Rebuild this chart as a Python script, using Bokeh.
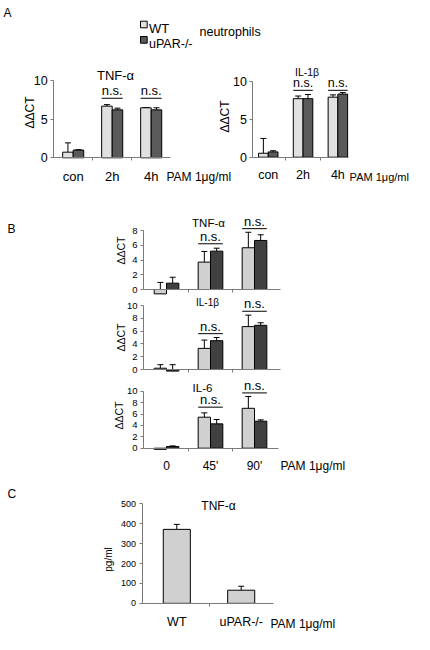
import math
import numpy as np
from bokeh.plotting import figure
from bokeh.models import Range1d, LinearAxis, FixedTicker, Whisker, TeeHead, ColumnDataSource
from bokeh.core.properties import value
from bokeh.embed import file_html
from bokeh.resources import INLINE

# ---------------- data ----------------
a_cats = ["con", "2h", "4h"]
a_tnf_wt = [0.73, 6.68, 6.47]
a_tnf_wt_err = [1.2, 0.2, 0.03]
a_tnf_ko = [1.0, 6.2, 6.2]
a_tnf_ko_err = [0.05, 0.22, 0.27]
a_il1_wt = [0.52, 7.7, 7.9]
a_il1_wt_err = [1.95, 0.35, 0.3]
a_il1_ko = [0.7, 7.7, 8.3]
a_il1_ko_err = [0.15, 0.55, 0.2]
a_yticks = [0, 5, 10]
a_ns_at = [2, 3]
a_tnf_ns_y = [7.7, 7.7]
a_il1_ns_y = [8.8, 8.8]

b_cats = ["0", "45'", "90'"]
b_tnf_wt = [-0.59, 3.71, 5.66]
b_tnf_wt_err = [1.55, 1.45, 2.1]
b_tnf_ko = [0.86, 5.2, 6.65]
b_tnf_ko_err = [0.8, 0.4, 0.77]
b_il1_wt = [0.2, 3.3, 6.7]
b_il1_wt_err = [0.55, 1.3, 1.8]
b_il1_ko = [-0.25, 4.5, 6.9]
b_il1_ko_err = [1.0, 0.5, 0.4]
b_il6_wt = [-0.2, 5.44, 7.0]
b_il6_wt_err = [0.15, 0.76, 2.06]
b_il6_ko = [0.3, 4.27, 4.74]
b_il6_ko_err = [0.1, 0.76, 0.23]
b_tnf_yticks = [0, 2, 4, 6, 8]
b_il_yticks = [0, 2, 4, 6, 8, 10]
b_ns_at = [2, 3]
b_tnf_ns_y = [6.2, 8.25]
b_il1_ns_y = [5.6, 9.1]
b_il6_ns_y = [7.2, 9.7]

c_cats = ["WT", "uPAR-/-"]
c_tnf = [372, 66]
c_tnf_err = [25, 20]
c_yticks = [0, 100, 200, 300, 400, 500]

# ---------------- style / layout ----------------
FONT_NAME = "Liberation Sans"
FONT = value(FONT_NAME)
AX = "#7a7a7a"
WT_A, KO_A = "#e0e0e0", "#5a5a5a"
WT_B, KO_B = "#d0d0d0", "#404040"
FIG_W, FIG_H = 414, 634


def XA(x):
    # top row: exact up to 240 px, then squeezed to fit the page width
    return x if x <= 240 else 240 + (x - 240) * (412 - 240) / (426 - 240)


def XB(x):
    return x


def Y(y):
    # exact down to 470 px, then squeezed to fit the page height
    return y if y <= 470 else 470 + (y - 470) * (627 - 470) / (650 - 470)


p = figure(width=FIG_W, height=FIG_H, output_backend="svg", toolbar_location=None,
           x_range=Range1d(0, FIG_W), y_range=Range1d(FIG_H, 0),
           x_axis_location=None, y_axis_location=None, min_border=0,
           outline_line_color=None, background_fill_color="white",
           border_fill_color="white")
p.grid.visible = False

extra_x, extra_y = {}, {}


def txt(x, y, s, size, align="left", baseline="alphabetic", angle=0.0):
    p.text(x=[x], y=[y], text=[s], text_font=FONT, text_font_size=value(size),
           text_align=align, text_baseline=baseline, angle=angle, text_color="black")


def panel(key, xf, xmap, ymap, yaxis_x, xaxis_end, ymax, yticks, tick_font,
          cats, series, bar_w, labels=False, label_font="12px", standoff=8,
          ns_at=None, ns_y=None, ns_font="13px"):
    (d1, p1), (d2, p2) = xmap
    p1, p2 = xf(p1), xf(p2)
    (e1, q1), (e2, q2) = ymap
    q1, q2 = Y(q1), Y(q2)
    kx = (d2 - d1) / (p2 - p1)
    extra_x[key] = Range1d(d1 + kx * (0 - p1), d1 + kx * (FIG_W - p1))
    ky = (e2 - e1) / (q2 - q1)
    extra_y[key] = Range1d(e1 + ky * (FIG_H - q1), e1 + ky * (0 - q1))
    p.extra_x_ranges = dict(extra_x)
    p.extra_y_ranges = dict(extra_y)
    rk = dict(x_range_name=key, y_range_name=key)

    n = len(cats)
    xs = np.arange(1, n + 1, dtype=float)
    ns = len(series)
    for j, (vals, errs, fill) in enumerate(series):
        off = (j - (ns - 1) / 2) * bar_w
        v = np.array(vals, dtype=float)
        e = np.array(errs, dtype=float)
        src = ColumnDataSource(dict(x=xs + off, top=v, lo=v, hi=v + e))
        p.vbar(x="x", top="top", bottom=0, width=bar_w, fill_color=fill,
               line_color="black", line_width=1, source=src, **rk)
        p.add_layout(Whisker(source=src, base="x", lower="lo", upper="hi",
                             dimension="height", line_color="black", line_width=1,
                             upper_head=TeeHead(size=6, line_color="black", line_width=1),
                             lower_head=None, **rk))

    ya = LinearAxis(fixed_location=yaxis_x, bounds=(0, ymax),
                    ticker=FixedTicker(ticks=[float(t) for t in yticks], minor_ticks=[]),
                    axis_line_color=AX, major_tick_line_color=AX,
                    major_tick_out=3, major_tick_in=0, minor_tick_line_color=None,
                    major_label_text_font=FONT_NAME, major_label_text_font_size=tick_font,
                    major_label_text_color="black", major_label_standoff=3, **rk)
    p.add_layout(ya, "left")

    over = {i + 1: c for i, c in enumerate(cats)}
    xa = LinearAxis(fixed_location=0, bounds=(yaxis_x, xaxis_end),
                    ticker=FixedTicker(ticks=[float(t) for t in xs] if labels else [],
                                       minor_ticks=[float(t) + 0.5 for t in xs[:-1]]),
                    major_label_overrides=over,
                    axis_line_color=AX, major_tick_line_color=None,
                    major_tick_out=0, major_tick_in=0,
                    minor_tick_line_color=AX, minor_tick_out=3, minor_tick_in=0,
                    major_label_text_font=FONT_NAME, major_label_text_font_size=label_font,
                    major_label_text_color="black", major_label_standoff=standoff, **rk)
    p.add_layout(xa, "below")

    if ns_at is not None:
        at = np.array(ns_at, dtype=float)
        p.segment(x0=at - bar_w, x1=at + bar_w, y0=ns_y, y1=ns_y,
                  line_color="black", line_width=1, **rk)
        p.text(x=at, y=ns_y, text=["n.s."] * len(at), text_font=FONT,
               text_font_size=value(ns_font), text_align="center",
               text_baseline="bottom", **rk)


# ---- panel A ----
panel("a1", XA, ((1, 72.7), (3, 150.7)), ((0, 157.3), (10, 80)), 0.5, 3.5, 10, a_yticks, "12.5px",
      a_cats, [(a_tnf_wt, a_tnf_wt_err, WT_A), (a_tnf_ko, a_tnf_ko_err, KO_A)], 0.27,
      labels=True, label_font="13px", standoff=8, ns_at=a_ns_at, ns_y=a_tnf_ns_y)
panel("a2", XA, ((1, 270), (3, 345.3)), ((0, 156.7), (10, 80.7)), 0.56, 3.3, 10, a_yticks, "12.5px",
      a_cats, [(a_il1_wt, a_il1_wt_err, WT_A), (a_il1_ko, a_il1_ko_err, KO_A)], 0.28,
      labels=True, label_font="12.5px", standoff=8, ns_at=a_ns_at, ns_y=a_il1_ns_y,
      ns_font="12.5px")

# ---- panel B ----
bx = ((1, 166), (3, 254))
panel("b1", XB, bx, ((0, 289), (8, 230)), 0.48, 3.6, 8, b_tnf_yticks, "9.5px",
      b_cats, [(b_tnf_wt, b_tnf_wt_err, WT_B), (b_tnf_ko, b_tnf_ko_err, KO_B)], 0.28,
      ns_at=b_ns_at, ns_y=b_tnf_ns_y)
panel("b2", XB, bx, ((0, 369), (10, 305)), 0.48, 3.6, 10, b_il_yticks, "9.5px",
      b_cats, [(b_il1_wt, b_il1_wt_err, WT_B), (b_il1_ko, b_il1_ko_err, KO_B)], 0.28,
      ns_at=b_ns_at, ns_y=b_il1_ns_y)
panel("b3", XB, bx, ((0, 447.7), (10, 390.7)), 0.48, 3.55, 10, b_il_yticks, "9.5px",
      b_cats, [(b_il6_wt, b_il6_wt_err, WT_B), (b_il6_ko, b_il6_ko_err, KO_B)], 0.28,
      labels=True, label_font="12px", standoff=8, ns_at=b_ns_at, ns_y=b_il6_ns_y)

# ---- panel C ----
panel("c", XB, ((1, 176.3), (2, 240.7)), ((0, 622.3), (500, 508.3)), 0.46, 2.5, 500, c_yticks, "9px",
      c_cats, [(c_tnf, c_tnf_err, WT_B)], 0.42,
      labels=True, label_font="12.5px", standoff=9)

# ---- free texts ----
txt(XA(3), Y(12), "A", "12px")
txt(XB(7), Y(228), "B", "12px")
txt(XB(7), Y(497), "C", "12px")

# legend
p.quad(left=[XA(140)] * 2, right=[XA(146.7)] * 2, top=[Y(20.7), Y(36)], bottom=[Y(27.3), Y(42.7)],
       fill_color=[WT_A, KO_A], line_color="black", line_width=1)
txt(XA(148.5), Y(28), "WT", "13px")
txt(XA(148.5), Y(43), "uPAR-/-", "12.5px")
txt(XA(199), Y(31.5), "neutrophils", "12.5px")

# titles
txt(XA(115), Y(75), "TNF-\u03b1", "13px", align="center")
txt(XA(312), Y(71), "IL-1\u03b2", "10.5px", align="center")
txt(XB(208), Y(222), "TNF-\u03b1", "11.5px", align="center")
txt(XB(207), Y(302), "IL-1\u03b2", "10px", align="center")
txt(XB(202), Y(387), "IL-6", "11.5px", align="center")
txt(XB(218), Y(511), "TNF-\u03b1", "12px", align="center")

# axis titles
txt(XA(29), Y(112), "\u0394\u0394CT", "12px", align="center", baseline="middle", angle=math.pi / 2)
txt(XA(224), Y(116), "\u0394\u0394CT", "12px", align="center", baseline="middle", angle=math.pi / 2)
txt(XB(120), Y(250), "\u0394\u0394CT", "10.5px", align="center", baseline="middle", angle=math.pi / 2)
txt(XB(120), Y(337), "\u0394\u0394CT", "10.5px", align="center", baseline="middle", angle=math.pi / 2)
txt(XB(118), Y(415), "\u0394\u0394CT", "10.5px", align="center", baseline="middle", angle=math.pi / 2)
txt(XB(107.5), Y(572), "pg/ml", "10px", align="center", baseline="middle", angle=math.pi / 2)

# stimulus labels
txt(XA(166), Y(176), "PAM 1\u03bcg/ml", "12px")
txt(XA(358), Y(176), "PAM 1\u03bcg/ml", "11px")
txt(XB(280), Y(465), "PAM 1\u03bcg/ml", "12px")
txt(XB(270), Y(646), "PAM 1\u03bcg/ml", "12px")

open("out.html", "w").write(file_html(p, INLINE))
